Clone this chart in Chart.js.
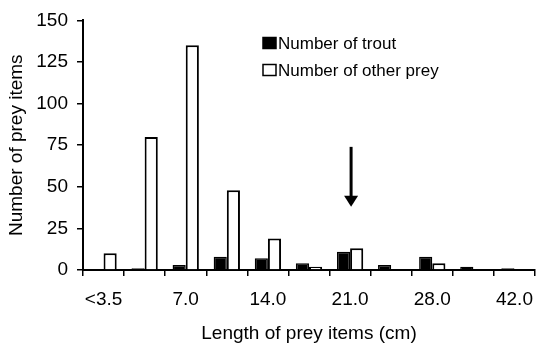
<!DOCTYPE html>
<html>
<head>
<meta charset="utf-8">
<script src="https://cdn.jsdelivr.net/npm/chart.js@4"></script>
<style>
    body { margin: 0; background: #fff; }
    #wrap { width: 537px; height: 343px; position: relative; }
</style>
</head>
<body>
<div id="wrap"><canvas id="preyChart"></canvas></div>
<script>
// data
const categories = ['<3.5', '', '7.0', '', '14.0', '', '21.0', '', '28.0', '', '42.0'];
const troutCounts = [0, 1, 3, 8, 7, 4, 11, 3, 8, 2, 1];
const otherPreyCounts = [10, 80, 135, 48, 19, 2, 13, 0, 4, 0, 0];
const seriesNames = ['Number of trout', 'Number of other prey'];
const yTicks = [0, 25, 50, 75, 100, 125, 150];
// arrow marker above the 21.0 class
const arrowCategory = 6;
const arrowFrom = 74;
const arrowTo = 38;

const FONT = 'Arial, "Liberation Sans", sans-serif';

// legend drawn inside the plot, top right
const insideLegend = {
    id: 'insideLegend',
    afterDraw(chart) {
        const c = chart.ctx;
        c.save();
        c.font = '17px ' + FONT;
        c.textBaseline = 'middle';
        const rows = [43, 70];
        chart.data.datasets.forEach((ds, i) => {
            const y = rows[i];
            c.fillStyle = ds.backgroundColor;
            c.fillRect(263, y - 5.5, 13, 11);
            c.strokeStyle = '#000';
            c.lineWidth = 1.5;
            c.strokeRect(263, y - 5.5, 13, 11);
            c.fillStyle = '#000';
            c.fillText(ds.label, 278, y + 1);
        });
        c.restore();
    }
};

// downward arrow, placed through the scales
const arrowMark = {
    id: 'arrowMark',
    afterDatasetsDraw(chart) {
        const x = chart.scales.x.getPixelForValue(arrowCategory) + 1;
        const y0 = chart.scales.y.getPixelForValue(arrowFrom);
        const y1 = chart.scales.y.getPixelForValue(arrowTo);
        const c = chart.ctx;
        c.save();
        c.strokeStyle = '#000';
        c.fillStyle = '#000';
        c.lineWidth = 3;
        c.beginPath();
        c.moveTo(x, y0);
        c.lineTo(x, y1 - 8);
        c.stroke();
        c.beginPath();
        c.moveTo(x - 7, y1 - 11);
        c.lineTo(x + 7, y1 - 11);
        c.lineTo(x, y1);
        c.closePath();
        c.fill();
        c.restore();
    }
};

const ctx = document.getElementById('preyChart').getContext('2d');
new Chart(ctx, {
    type: 'bar',
    data: {
        labels: categories,
        datasets: [{
            label: seriesNames[0],
            data: troutCounts,
            backgroundColor: '#000',
            borderColor: '#000',
            borderWidth: 1.5
        }, {
            label: seriesNames[1],
            data: otherPreyCounts,
            backgroundColor: '#fff',
            borderColor: '#000',
            borderWidth: 2
        }]
    },
    options: {
        responsive: true,
        maintainAspectRatio: false,
        animation: false,
        layout: { padding: { top: 17, right: 2, bottom: 0, left: 0 } },
        datasets: {
            bar: { categoryPercentage: 0.64, barPercentage: 1 }
        },
        scales: {
            x: {
                afterFit: (s) => { s.height = 73; s.paddingLeft = 0; s.paddingRight = 0; },
                grid: {
                    offset: true,
                    drawOnChartArea: false,
                    drawTicks: true,
                    tickLength: 6,
                    color: '#000',
                    lineWidth: 1.5
                },
                border: { display: true, color: '#000', width: 2 },
                ticks: {
                    autoSkip: false,
                    maxRotation: 0,
                    padding: 12,
                    color: '#000',
                    font: { family: FONT, size: 19 }
                },
                title: {
                    display: true,
                    text: 'Length of prey items (cm)',
                    color: '#000',
                    font: { family: FONT, size: 19, lineHeight: 1 },
                    padding: { top: 0, bottom: 0 }
                }
            },
            y: {
                min: 0,
                max: 150,
                afterFit: (s) => { s.width = 83; },
                afterBuildTicks: (s) => { s.ticks = yTicks.map(v => ({ value: v })); },
                grid: {
                    drawOnChartArea: false,
                    drawTicks: true,
                    tickLength: 6,
                    color: '#000',
                    lineWidth: 1.5
                },
                border: { display: true, color: '#000', width: 2 },
                ticks: {
                    padding: 9,
                    color: '#000',
                    font: { family: FONT, size: 19 }
                },
                title: {
                    display: true,
                    text: 'Number of prey items',
                    color: '#000',
                    font: { family: FONT, size: 19, lineHeight: 1 },
                    padding: { top: 7, bottom: 0 }
                }
            }
        },
        plugins: {
            legend: { display: false },
            tooltip: { enabled: false }
        }
    },
    plugins: [insideLegend, arrowMark]
});
</script>
</body>
</html>
